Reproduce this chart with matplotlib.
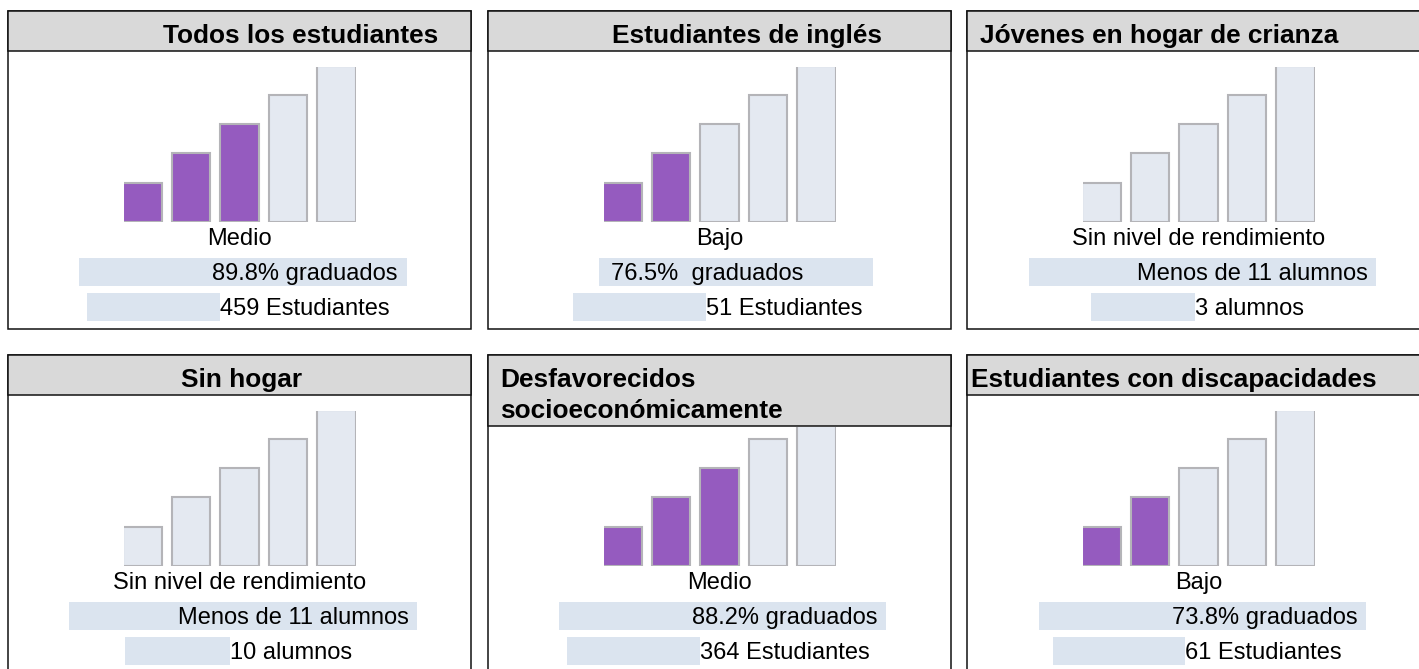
import matplotlib.pyplot as plt
from matplotlib.patches import Rectangle

# --- data ---
titles = ["Todos los estudiantes", "Estudiantes de inglés", "Jóvenes en hogar de crianza",
          "Sin hogar", "Desfavorecidos\nsocioeconómicamente", "Estudiantes con discapacidades"]
levels = ["Medio", "Bajo", "Sin nivel de rendimiento",
          "Sin nivel de rendimiento", "Medio", "Bajo"]
filled = [3, 2, 0, 0, 3, 2]
rates = ["89.8% graduados", "76.5%  graduados", "Menos de 11 alumnos",
         "Menos de 11 alumnos", "88.2% graduados", "73.8% graduados"]
counts = ["459 Estudiantes", "51 Estudiantes", "3 alumnos",
          "10 alumnos", "364 Estudiantes", "61 Estudiantes"]
bar_heights = [39, 69, 98, 127, 156]

# --- layout (pixels) ---
W, H = 1419, 669
lefts = [8, 488, 967, 8, 488, 967]
tops = [11, 11, 11, 355, 355, 355]
pw, ph = 463, 318
head_h = [40, 40, 40, 40, 71, 40]
title_x = [155, 124, 13, 173, 12, 4]
band1 = [(71, 399), (111, 385), (62, 409), (61, 409), (71, 398), (72, 399)]
band1_txt = [(390, 'right'), (123, 'left'), (401, 'right'), (401, 'right'), (390, 'right'), (391, 'right')]
band2 = [(79, 212), (85, 218), (124, 228), (117, 222), (79, 212), (86, 218)]

purple = '#955bbf'
light = '#e4e9f1'
edge = '#b4b4b8'
band_c = '#dbe4ef'
head_c = '#d9d9d9'

plt.rcParams['font.family'] = ['Liberation Sans', 'DejaVu Sans']

fig = plt.figure(figsize=(W / 100, H / 100), dpi=100)
bg = fig.add_axes([0, 0, 1, 1])
bg.set_xlim(0, W)
bg.set_ylim(H, 0)
bg.axis('off')

for i in range(6):
    x0, y0 = lefts[i], tops[i]
    # panel frame + header
    bg.add_patch(Rectangle((x0, y0), pw, ph, facecolor='white', edgecolor='#111111', lw=1.1, zorder=1))
    bg.add_patch(Rectangle((x0, y0), pw, head_h[i], facecolor=head_c, edgecolor='#111111', lw=1.1, zorder=2))
    for k, line in enumerate(titles[i].split('\n')):
        bg.text(x0 + title_x[i], y0 + 32 + k * 31, line, fontsize=18.9, fontweight='bold',
                ha='left', va='baseline', zorder=3)

    # level text and bands
    bg.text(x0 + pw / 2, y0 + 234, levels[i], fontsize=17, ha='center', va='baseline', zorder=3)
    b1 = band1[i]
    bg.add_patch(Rectangle((x0 + b1[0], y0 + 247), b1[1] - b1[0], 28, facecolor=band_c, lw=0, zorder=2))
    bg.text(x0 + band1_txt[i][0], y0 + 269, rates[i], fontsize=17, ha=band1_txt[i][1],
            va='baseline', zorder=3)
    b2 = band2[i]
    bg.add_patch(Rectangle((x0 + b2[0], y0 + 282), b2[1] - b2[0], 28, facecolor=band_c, lw=0, zorder=2))
    bg.text(x0 + b2[1], y0 + 304, counts[i], fontsize=17, ha='left', va='baseline', zorder=3)

    # bar icon (cropped like the original picture)
    base = y0 + 211
    top = max(base - 155, y0 + head_h[i] + 1)
    bx0 = x0 + 116
    ax = fig.add_axes([bx0 / W, (H - base) / H, 232 / W, (base - top) / H])
    cols = [purple if j < filled[i] else light for j in range(5)]
    ax.bar([19.5 + 48.5 * j for j in range(5)], bar_heights, width=38.5,
           color=cols, edgecolor=edge, linewidth=1.5)
    ax.set_xlim(1, 233)
    ax.set_ylim(0, base - top)
    ax.axis('off')

fig.savefig('out.png', dpi=100)
